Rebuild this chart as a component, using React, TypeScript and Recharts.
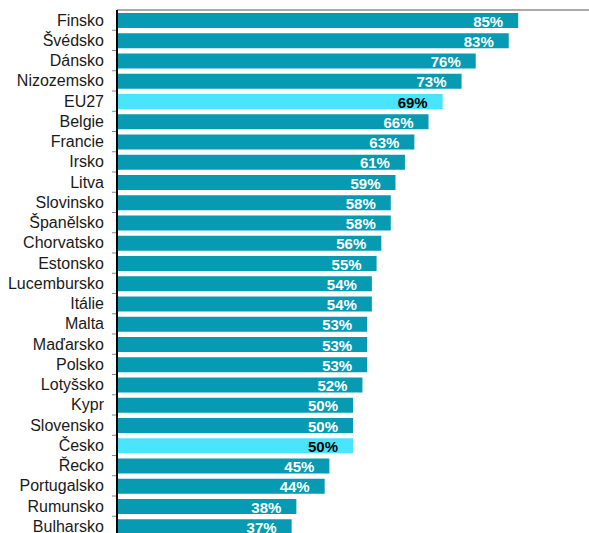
import { BarChart, Bar, XAxis, YAxis, Cell, LabelList } from "recharts";

// Share by country, sorted descending (chart is cropped at the bottom)
const countries = [
  "Finsko", "Švédsko", "Dánsko", "Nizozemsko", "EU27", "Belgie", "Francie",
  "Irsko", "Litva", "Slovinsko", "Španělsko", "Chorvatsko", "Estonsko",
  "Lucembursko", "Itálie", "Malta", "Maďarsko", "Polsko", "Lotyšsko", "Kypr",
  "Slovensko", "Česko", "Řecko", "Portugalsko", "Rumunsko", "Bulharsko",
];
const values = [
  85, 83, 76, 73, 69, 66, 63, 61, 59, 58, 58, 56, 55, 54, 54, 53, 53, 53, 52,
  50, 50, 50, 45, 44, 38, 37,
];
const highlighted = ["EU27", "Česko"];

const data = countries.map((name, i) => ({ name, value: values[i] }));

const BASE = "#069bb2";
const HIGHLIGHT = "#4ae4fc";
const FONT = "'Liberation Sans', Arial, sans-serif";
const BAND = 20.25;

const CategoryTick = (props: any) => {
  const { y, payload, index } = props;
  return (
    <g>
      <text
        x={104}
        y={y}
        dy={5.5}
        textAnchor="end"
        fontSize={16}
        fontFamily={FONT}
        fill="#1a1a1a"
      >
        {payload.value}
      </text>
      {index > 0 && (
        <line
          x1={112}
          x2={116}
          y1={y - BAND / 2}
          y2={y - BAND / 2}
          stroke="#888"
          strokeWidth={1}
        />
      )}
    </g>
  );
};

const ValueLabel = (props: any) => {
  const { x, y, width, height, value, index } = props;
  const isHi = highlighted.includes(countries[index]);
  return (
    <text
      x={x + width - 15}
      y={y + height / 2}
      dy={6}
      textAnchor="end"
      fontSize={15}
      fontWeight="bold"
      fontFamily={FONT}
      fill={isHi ? "#000" : "#fff"}
    >
      {value}%
    </text>
  );
};

export default function App() {
  return (
    <div
      style={{
        position: "fixed",
        top: 0,
        left: 0,
        width: 589,
        height: 533,
        overflow: "hidden",
        background: "#fff",
      }}
    >
      <BarChart
        width={589}
        height={10 + BAND * countries.length}
        data={data}
        layout="vertical"
        margin={{ top: 9, right: 0, bottom: 0, left: 0 }}
        barSize={15}
      >
        <XAxis
          type="number"
          domain={[0, 100]}
          orientation="top"
          height={1}
          tick={false}
          tickLine={false}
          axisLine={{ stroke: "#aaa", strokeWidth: 2 }}
        />
        <YAxis
          type="category"
          dataKey="name"
          width={117}
          interval={0}
          tickLine={false}
          axisLine={{ stroke: "#000", strokeWidth: 2 }}
          tick={<CategoryTick />}
        />
        <Bar dataKey="value" isAnimationActive={false}>
          {data.map((d) => (
            <Cell
              key={d.name}
              fill={highlighted.includes(d.name) ? HIGHLIGHT : BASE}
            />
          ))}
          <LabelList dataKey="value" content={<ValueLabel />} />
        </Bar>
      </BarChart>
    </div>
  );
}
